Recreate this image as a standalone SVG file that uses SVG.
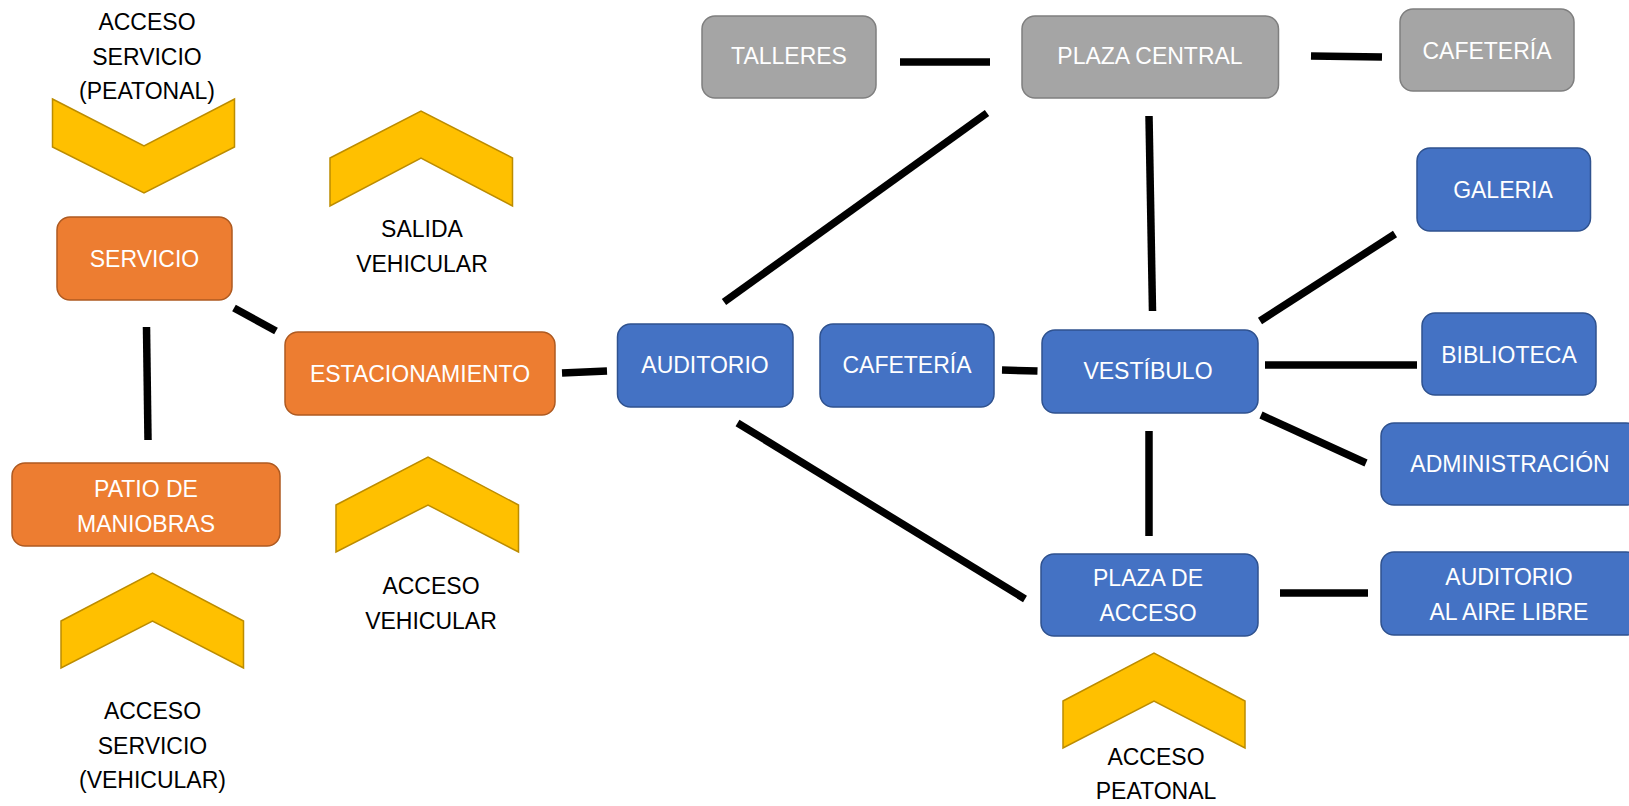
<svg xmlns="http://www.w3.org/2000/svg" width="1629" height="806" viewBox="0 0 1629 806">
<style>
text{font-family:"Liberation Sans",Arial,sans-serif;font-size:23px;text-anchor:middle}
.w{fill:#fff}
.k{fill:#000}
.or{fill:#ED7D31;stroke:#AE5A21;stroke-width:1.5}
.bl{fill:#4472C4;stroke:#2F528F;stroke-width:1.5}
.gr{fill:#A5A5A5;stroke:#7F7F7F;stroke-width:1.5}
.ch{fill:#FFC000;stroke:#BC8C00;stroke-width:1.5}
.c line{stroke:#000;stroke-width:7.5}
</style>
<rect width="1629" height="806" fill="#fff"/>
<g class="c" id="connectors">
<line x1="234" y1="308" x2="276" y2="331"/>
<line x1="146.5" y1="327" x2="148" y2="440"/>
<line x1="562" y1="373" x2="607" y2="371"/>
<line x1="724" y1="302" x2="987" y2="113"/>
<line x1="737.5" y1="423" x2="1025" y2="599"/>
<line x1="900" y1="62" x2="990" y2="62"/>
<line x1="1311" y1="56" x2="1382" y2="57"/>
<line x1="1002" y1="370" x2="1037.5" y2="371"/>
<line x1="1149" y1="116" x2="1152.5" y2="311"/>
<line x1="1260" y1="321" x2="1395" y2="234"/>
<line x1="1265" y1="365" x2="1417" y2="365"/>
<line x1="1261" y1="415" x2="1366" y2="463"/>
<line x1="1149" y1="431" x2="1149" y2="536"/>
<line x1="1280" y1="593" x2="1368" y2="593"/>
</g>
<g id="acceso-servicio-peatonal">
<polygon class="ch" points="52.5,99 144,146 234.5,99 234.5,147 144,193 52.5,147"/>
<text class="k" x="147" y="30">ACCESO</text>
<text class="k" x="147" y="65">SERVICIO</text>
<text class="k" x="147" y="99">(PEATONAL)</text>
</g>
<g id="salida-vehicular">
<polygon class="ch" points="330,158 421,111 512.5,158 512.5,206 421,158 330,206"/>
<text class="k" x="422" y="237">SALIDA</text>
<text class="k" x="422" y="272">VEHICULAR</text>
</g>
<g id="servicio">
<rect class="or" x="57" y="217" width="175" height="83" rx="13"/>
<text class="w" x="144.5" y="267">SERVICIO</text>
</g>
<g id="estacionamiento">
<rect class="or" x="285" y="332" width="270" height="83" rx="13"/>
<text class="w" x="420" y="382">ESTACIONAMIENTO</text>
</g>
<g id="patio">
<rect class="or" x="12" y="463" width="268" height="83" rx="13"/>
<text class="w" x="146" y="497">PATIO DE</text>
<text class="w" x="146" y="532">MANIOBRAS</text>
</g>
<g id="acceso-servicio-vehicular">
<polygon class="ch" points="61,621 152.5,573 243.5,621 243.5,668 152.5,621 61,668"/>
<text class="k" x="152.5" y="719">ACCESO</text>
<text class="k" x="152.5" y="754">SERVICIO</text>
<text class="k" x="152.5" y="788">(VEHICULAR)</text>
</g>
<g id="acceso-vehicular">
<polygon class="ch" points="336,505 428,457 518.5,505 518.5,552 428,505 336,552"/>
<text class="k" x="431" y="594">ACCESO</text>
<text class="k" x="431" y="629">VEHICULAR</text>
</g>
<g id="talleres">
<rect class="gr" x="702" y="16" width="174" height="82" rx="13"/>
<text class="w" x="789" y="64">TALLERES</text>
</g>
<g id="plaza-central">
<rect class="gr" x="1022" y="16" width="256.5" height="82" rx="13"/>
<text class="w" x="1150" y="64">PLAZA CENTRAL</text>
</g>
<g id="cafeteria-gris">
<rect class="gr" x="1400" y="9" width="174" height="82" rx="13"/>
<text class="w" x="1487" y="59">CAFETERÍA</text>
</g>
<g id="auditorio">
<rect class="bl" x="617.5" y="324" width="175.5" height="83" rx="13"/>
<text class="w" x="705" y="373">AUDITORIO</text>
</g>
<g id="cafeteria">
<rect class="bl" x="820" y="324" width="174" height="83" rx="13"/>
<text class="w" x="907" y="373">CAFETERÍA</text>
</g>
<g id="vestibulo">
<rect class="bl" x="1042" y="330" width="216" height="83" rx="13"/>
<text class="w" x="1148" y="379">VESTÍBULO</text>
</g>
<g id="galeria">
<rect class="bl" x="1417" y="148" width="173.5" height="83" rx="13"/>
<text class="w" x="1503" y="198">GALERIA</text>
</g>
<g id="biblioteca">
<rect class="bl" x="1422" y="313" width="174" height="82" rx="13"/>
<text class="w" x="1509" y="363">BIBLIOTECA</text>
</g>
<g id="administracion">
<rect class="bl" x="1381" y="423" width="258" height="82" rx="13"/>
<text class="w" x="1510" y="472">ADMINISTRACIÓN</text>
</g>
<g id="plaza-de-acceso">
<rect class="bl" x="1041" y="554" width="217" height="82" rx="13"/>
<text class="w" x="1148" y="586">PLAZA DE</text>
<text class="w" x="1148" y="621">ACCESO</text>
</g>
<g id="auditorio-aire-libre">
<rect class="bl" x="1381" y="552" width="258" height="83" rx="13"/>
<text class="w" x="1509" y="585">AUDITORIO</text>
<text class="w" x="1509" y="620">AL AIRE LIBRE</text>
</g>
<g id="acceso-peatonal">
<polygon class="ch" points="1063,701 1154,653 1245,701 1245,748 1154,701 1063,748"/>
<text class="k" x="1156" y="765">ACCESO</text>
<text class="k" x="1156" y="799">PEATONAL</text>
</g>
</svg>
